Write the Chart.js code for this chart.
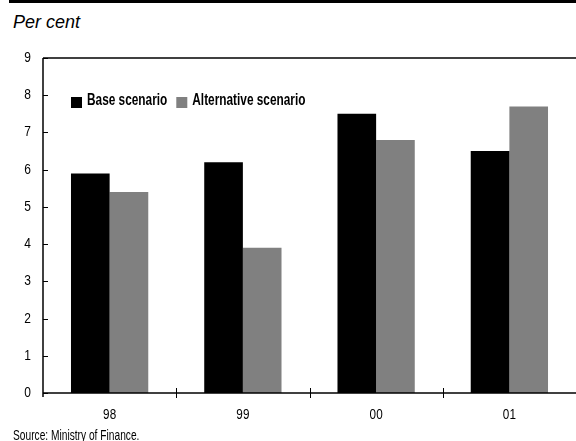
<!DOCTYPE html>
<html>
<head>
<meta charset="utf-8">
<script src="https://cdn.jsdelivr.net/npm/chart.js@4/dist/chart.umd.min.js"></script>
<style>
  html, body { margin: 0; padding: 0; background: #fff; }
  #wrap { position: relative; width: 576px; height: 441px; overflow: hidden; }
  #rule { position: absolute; left: 9px; top: 0; width: 567px; height: 3px; background: #000; }
  #unit { position: absolute; left: 13px; top: 12px; font: italic 18px "Liberation Sans", Arial, sans-serif; color: #000; }
  #source { position: absolute; left: 13px; top: 426px; font: 15px "Liberation Sans", Arial, sans-serif; color: #000;
            white-space: nowrap; transform: scaleX(0.68); transform-origin: 0 0; }
  canvas { position: absolute; left: 0; top: 0; }
</style>
</head>
<body>
<div id="wrap">
  <div id="rule"></div>
  <div id="unit">Per cent</div>
  <canvas id="c" width="576" height="441"></canvas>
  <div id="source">Source: Ministry of Finance.</div>
</div>
<script>
// Years shown along the x axis
const years = ['98', '99', '00', '01'];
// Growth rates, per cent
const baseScenario = [5.9, 6.2, 7.5, 6.5];
const alternativeScenario = [5.4, 3.9, 6.8, 7.7];
// Y axis range and steps
const yTicks = [0, 1, 2, 3, 4, 5, 6, 7, 8, 9];

const FONT = '"Liberation Sans", Arial, sans-serif';

// Condensed text: ordinary sans squeezed horizontally
function narrowText(ctx, text, x, y, align, font, squeeze) {
  ctx.save();
  ctx.translate(x, y);
  ctx.scale(squeeze, 1);
  ctx.font = font;
  ctx.textAlign = align;
  ctx.fillText(text, 0, 0);
  const w = ctx.measureText(text).width * squeeze;
  ctx.restore();
  return w;
}

// Axis frame, inward ticks, tick labels and the in-plot legend
const framePlugin = {
  id: 'frame',
  afterDatasetsDraw(chart) {
    const { ctx, chartArea: a, scales } = chart;
    const x = scales.x, y = scales.y;
    ctx.save();
    ctx.strokeStyle = '#000';
    ctx.fillStyle = '#000';
    ctx.lineWidth = 1.5;
    // top border
    ctx.beginPath();
    ctx.moveTo(a.left, a.top);
    ctx.lineTo(a.right, a.top);
    ctx.stroke();
    // y axis
    ctx.beginPath();
    ctx.moveTo(a.left, a.top);
    ctx.lineTo(a.left, a.bottom + 4);
    ctx.stroke();
    // x axis
    ctx.beginPath();
    ctx.moveTo(a.left, a.bottom);
    ctx.lineTo(a.right, a.bottom);
    ctx.stroke();
    // y ticks, pointing inward, with labels
    ctx.lineWidth = 1;
    ctx.textBaseline = 'middle';
    yTicks.forEach(v => {
      const py = Math.round(y.getPixelForValue(v)) + 0.5;
      ctx.beginPath();
      ctx.moveTo(a.left, py);
      ctx.lineTo(a.left + 5, py);
      ctx.stroke();
      narrowText(ctx, String(v), 31, py - 1, 'right', '15px ' + FONT, 0.8);
    });
    // x ticks at category boundaries
    for (let i = 1; i < years.length; i++) {
      const px = Math.round((x.getPixelForValue(i - 1) + x.getPixelForValue(i)) / 2) + 0.5;
      ctx.beginPath();
      ctx.moveTo(px, a.bottom - 5);
      ctx.lineTo(px, a.bottom + 5);
      ctx.stroke();
    }
    // x labels
    ctx.textBaseline = 'alphabetic';
    years.forEach((yr, i) => {
      narrowText(ctx, yr, x.getPixelForValue(i), 419, 'center', '15px ' + FONT, 0.78);
    });
    // legend
    let lx = 71;
    chart.data.datasets.forEach(ds => {
      ctx.fillStyle = ds.backgroundColor;
      ctx.fillRect(lx, 97, 11, 11);
      ctx.fillStyle = '#000';
      const w = narrowText(ctx, ds.label, lx + 16, 105, 'left', 'bold 16px ' + FONT, 0.74);
      lx += 16 + w + 9;
    });
    ctx.restore();
  }
};

new Chart(document.getElementById('c'), {
  type: 'bar',
  data: {
    labels: years,
    datasets: [
      { label: 'Base scenario', data: baseScenario, backgroundColor: '#000000' },
      { label: 'Alternative scenario', data: alternativeScenario, backgroundColor: '#808080' }
    ]
  },
  options: {
    responsive: false,
    animation: false,
    devicePixelRatio: 1,
    layout: { padding: { top: 58, right: 0, bottom: 0, left: 0 } },
    datasets: { bar: { categoryPercentage: 0.58, barPercentage: 1, borderWidth: 0 } },
    plugins: { legend: { display: false }, tooltip: { enabled: false }, title: { display: false } },
    scales: {
      x: {
        grid: { display: false },
        border: { display: false },
        ticks: { display: false },
        afterFit(s) { s.height = 48; }
      },
      y: {
        min: 0, max: 9,
        grid: { display: false },
        border: { display: false },
        afterBuildTicks(s) { s.ticks = yTicks.map(v => ({ value: v })); },
        ticks: { display: false },
        afterFit(s) { s.width = 43; }
      }
    }
  },
  plugins: [framePlugin]
});
</script>
</body>
</html>
